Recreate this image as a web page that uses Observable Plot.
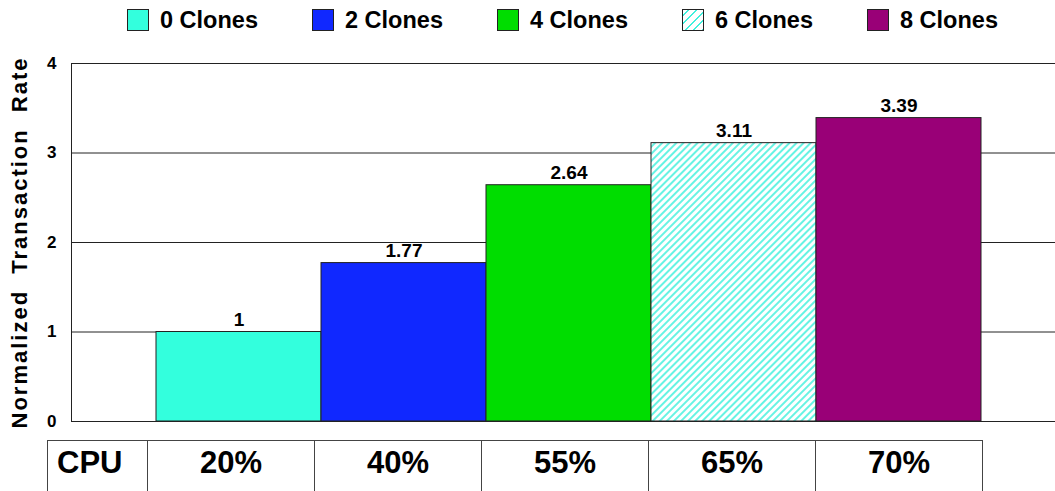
<!DOCTYPE html>
<html>
<head>
<meta charset="utf-8">
<script src="https://cdn.jsdelivr.net/npm/d3@7"></script>
<script src="https://cdn.jsdelivr.net/npm/@observablehq/plot@0.6"></script>
<style>
  html, body { margin: 0; padding: 0; background: white; overflow: hidden; width: 1055px; height: 491px; }
  body { font-family: "Liberation Sans", Arial, sans-serif; font-weight: bold; color: #000; }
  #legend { height: 40px; display: flex; align-items: center; padding-left: 127px; box-sizing: border-box; }
  .item { width: 185px; display: flex; align-items: center; font-size: 23.5px; }
  .sw { width: 22px; height: 22px; border: 1px solid #222; box-sizing: border-box; margin-right: 11px; flex: none; }
  #chart svg { display: block; }
  #table { position: relative; height: 51px; }
  #table table { position: absolute; left: 47px; top: 0; border-collapse: collapse; }
  #table td { border: 1.5px solid #444; height: 60px; vertical-align: top; padding: 0; font-size: 31px; text-align: center; line-height: 38px; padding-top: 3px; }
</style>
</head>
<body>
<div id="legend"></div>
<div id="chart"></div>
<div id="table"></div>
<script>
const clones = ["0 Clones", "2 Clones", "4 Clones", "6 Clones", "8 Clones"];
const rates = [1, 1.77, 2.64, 3.11, 3.39];
const cpuHeader = "CPU";
const cpu = ["20%", "40%", "55%", "65%", "70%"];
const yTicks = [0, 1, 2, 3, 4];
const fills = ["#33FFDD", "#1028FF", "#00DD00", "url(#hatch)", "#990077"];
const hatchColor = "#40F0DD";
const yLabel = "Normalized Transaction Rate";

const data = clones.map((c, i) => ({clone: c, rate: rates[i]}));

// legend
const legend = document.getElementById("legend");
clones.forEach((c, i) => {
  const item = document.createElement("div");
  item.className = "item";
  const sw = document.createElement("div");
  sw.className = "sw";
  if (fills[i].startsWith("url")) {
    sw.style.background = `repeating-linear-gradient(135deg, #fff 0 3px, ${hatchColor} 3px 4.6px, #fff 4.6px 6px)`;
  } else {
    sw.style.background = fills[i];
  }
  item.appendChild(sw);
  const t = document.createElement("span");
  t.textContent = c;
  item.appendChild(t);
  legend.appendChild(item);
});

const svg = Plot.plot({
  width: 1055,
  height: 400,
  marginTop: 23,
  marginBottom: 19,
  marginLeft: 71,
  marginRight: 0,
  style: {fontFamily: "'Liberation Sans', Arial, sans-serif", fontWeight: "bold", background: "white", color: "#000"},
  x: {type: "band", domain: clones, range: [154, 983], padding: 0, axis: null},
  y: {domain: [0, 4], axis: null},
  color: {domain: clones, range: fills},
  marks: [
    Plot.ruleY(yTicks, {stroke: "#222", strokeWidth: 1}),
    Plot.frame({stroke: "#222", insetRight: -4}),
    Plot.barY(data, {x: "clone", y: "rate", fill: "clone", stroke: "#222", strokeWidth: 1}),
    Plot.text(data, {x: "clone", y: "rate", text: d => String(d.rate), dy: -6, lineAnchor: "bottom", fontSize: 19, fontWeight: "bold", fill: "#000"}),
    Plot.axisY({ticks: yTicks, tickFormat: d => String(d), tickSize: 0, tickPadding: 15, fontSize: 17, fontWeight: "bold", label: null}),
    Plot.text([yLabel], {frameAnchor: "left", textAnchor: "middle", rotate: -90, dx: -52, fontSize: 22, fontWeight: "bold", fill: "#000"})
  ]
});

const defs = document.createElementNS("http://www.w3.org/2000/svg", "defs");
defs.innerHTML = `<pattern id="hatch" width="5" height="5" patternUnits="userSpaceOnUse" patternTransform="rotate(45)">
  <rect width="5" height="5" fill="white"/>
  <line x1="1" y1="0" x2="1" y2="5" stroke="${hatchColor}" stroke-width="1.6"/>
</pattern>`;
svg.insertBefore(defs, svg.firstChild);
svg.querySelectorAll("text").forEach(t => {
  if (t.textContent === yLabel) {
    t.style.wordSpacing = "8px";
    t.style.letterSpacing = "2px";
  }
});
document.getElementById("chart").appendChild(svg);

// CPU table
const tbl = document.createElement("table");
const tr = document.createElement("tr");
const head = document.createElement("td");
head.textContent = cpuHeader;
head.style.width = "100px";
head.style.textAlign = "left";
head.style.paddingLeft = "9px";
head.style.boxSizing = "border-box";
tr.appendChild(head);
cpu.forEach(v => {
  const td = document.createElement("td");
  td.textContent = v;
  td.style.width = "166px";
  tr.appendChild(td);
});
tbl.appendChild(tr);
document.getElementById("table").appendChild(tbl);
</script>
</body>
</html>
